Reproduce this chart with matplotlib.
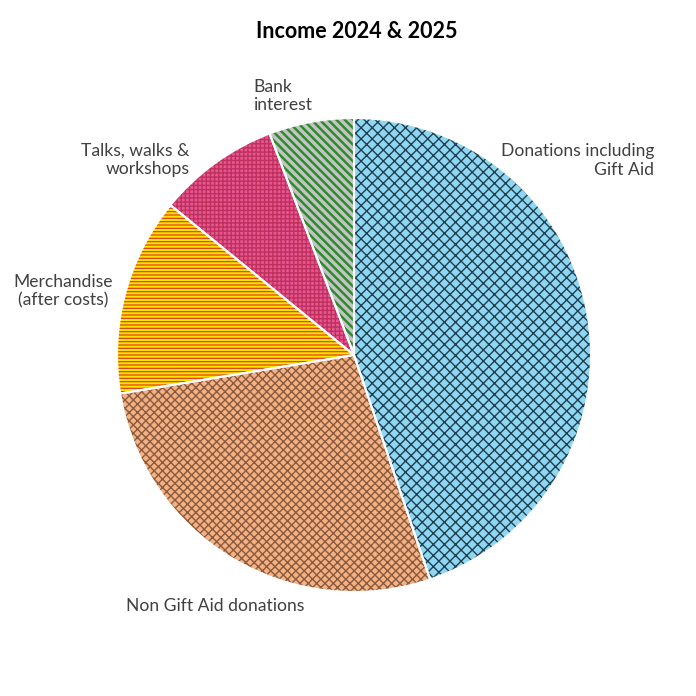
import matplotlib
matplotlib.use("Agg")
import matplotlib.pyplot as plt
import numpy as np

plt.rcParams['font.family'] = ['Lato', 'DejaVu Sans']
plt.rcParams['hatch.linewidth'] = 1.0

categories = ["Donations including\nGift Aid", "Non Gift Aid donations",
              "Merchandise\n(after costs)", "Talks, walks &\nworkshops", "Bank\ninterest"]
values = [44.8, 27.6, 13.5, 8.3, 5.8]
face_colors = ["#8ED6F2", "#F4B183", "#FFE600", "#E4578F", "#C4C4C4"]
hatch_colors = ["#1F3F4F", "#8A5A3E", "#E0401E", "#C0305E", "#2E8B2E"]
hatches = ["xxx", "xxxx", "-----", "++++", "\\\\\\\\"]
hatch_widths = [1.0, 1.0, 0.9, 1.0, 1.8]

# label placement (data units, radius 1) and alignment
label_pos = [(1.266, 0.82), (-0.586, -1.06), (-1.017, 0.27), (-0.692, 0.823), (-0.426, 1.093)]
label_ha = ["right", "center", "right", "right", "left"]
label_ma = ["right", "center", "center", "right", "left"]

fig = plt.figure(figsize=(6.96, 6.96), dpi=100)
cx, cy, r = 354 / 696, 1 - 355 / 696, 237 / 696
ax = fig.add_axes([cx - r, cy - r, 2 * r, 2 * r])

# filled and hatched wedges
wedges, _ = ax.pie(values, colors=face_colors, startangle=90, counterclock=False,
                   wedgeprops=dict(linewidth=0), radius=1)
for w, h, hc, hw in zip(wedges, hatches, hatch_colors, hatch_widths):
    w.set_hatch(h)
    w.set_edgecolor(hc)
    w.set_linewidth(0)
    if hasattr(w, "set_hatch_linewidth"):
        w.set_hatch_linewidth(hw)

# white borders on top
ax.pie(values, colors=["none"] * len(values), startangle=90, counterclock=False,
       wedgeprops=dict(linewidth=1.5, edgecolor="white", fill=False), radius=1)

ax.set_xlim(-1, 1)
ax.set_ylim(-1, 1)
ax.set_aspect("equal")
ax.axis("off")

for lab, (x, y), ha, ma in zip(categories, label_pos, label_ha, label_ma):
    ax.text(x, y, lab, ha=ha, va="center", multialignment=ma, fontsize=12.6,
            color="#404040", linespacing=1.2, clip_on=False)

fig.text(357 / 696, 1 - 31 / 696, "Income 2024 & 2025", ha="center", va="center",
         fontsize=15.5, fontweight="bold", color="#000000")

fig.savefig("out.png", dpi=100, facecolor="white")
